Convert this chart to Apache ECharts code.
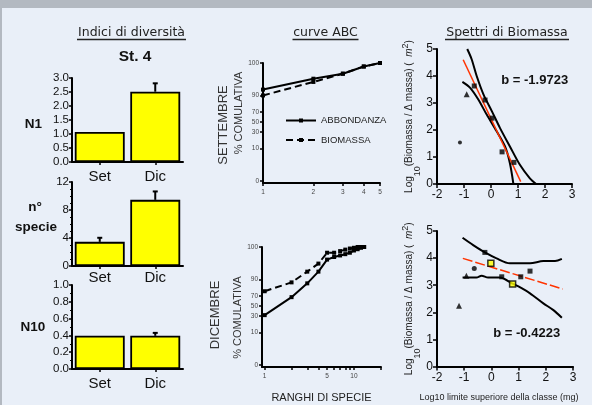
<!DOCTYPE html>
<html><head><meta charset="utf-8">
<script src="https://cdn.jsdelivr.net/npm/echarts@6/dist/echarts.min.js"></script>
<style>
html,body{margin:0;padding:0;width:592px;height:405px;overflow:hidden;background:#b3b9c1;}
#bg{position:absolute;left:2px;top:8px;width:590px;height:397px;background:#e9eff8;}
#chart{position:absolute;left:0;top:0;width:592px;height:405px;}
</style></head><body><div id="bg"></div><div id="chart"></div>
<script>
// ---- Bar charts (Indici di diversità, St. 4)
const MONTHS = ['Set', 'Dic'];
const N1_MEAN = [1.07, 2.51];
const N1_ERR = [0, 0.30];
const NSPEC_MEAN = [3.45, 9.45];
const NSPEC_ERR = [0.58, 1.20];
const N10_MEAN = [0.395, 0.395];
const N10_ERR = [0, 0.035];

// ---- ABC curves (cumulative %)
const ABC_Y_TICKS = [0, 10, 30, 50, 70, 90, 100];
const SET_X_TICKS = [1, 2, 3, 4, 5];
const SET_RANK = [1, 2, 3, 4, 5];
const SET_ABBONDANZA = [93.6, 97.3, 98.2, 99.0, 100];
const SET_BIOMASSA = [90.0, 96.5, 98.2, 99.0, 100];
const DIC_X_TICKS = [1, 2, 3, 4, 5, 6, 7, 8, 9, 10, 20];
const DIC_X_LABELS = [1, 5, 10];
const DIC_RANK = [1, 2, 3, 4, 5, 6, 7, 8, 9, 10, 11, 12, 13];
const DIC_ABBONDANZA = [31.9, 67.5, 86.7, 94.5, 97.9, 98.3, 98.5, 98.65, 98.8, 99.0, 99.1, 99.2, 100];
const DIC_BIOMASSA = [77.2, 87.6, 94.5, 97.1, 98.8, 98.8, 98.95, 99.07, 99.15, 99.2, 100, 100, 100];

// ---- Biomass spectra  [log10 upper class limit, log10(biomass/Δmass)]
const S1_DOT = [[-1.15, 1.54]];
const S1_TRI = [[-0.90, 3.32]];
const S1_SQ = [[-0.62, 3.63], [-0.22, 3.11], [0.04, 2.44], [0.41, 1.19], [0.85, 0.80]];
const S1_FIT = [[-1.03, 4.60], [1.10, 0.09]];
const S1_UPPER = [[-0.88, 5.0], [-0.72, 4.63], [-0.53, 4.0], [-0.28, 3.32], [0.03, 2.70], [0.33, 2.08], [0.70, 1.39], [1.07, 0.71], [1.44, 0.21], [1.67, 0]];
const S1_LOWER = [[-1.06, 3.78], [-0.78, 3.57], [-0.47, 3.13], [-0.16, 2.57], [0.21, 1.95], [0.52, 1.39], [0.70, 0.77], [0.83, 0]];
const S1_SLOPE = -1.9723;

const S2_TRI = [[-1.19, 2.24], [-0.92, 3.35]];
const S2_DOT = [[-0.63, 3.62]];
const S2_SQ = [[-0.24, 4.21], [0.38, 3.31], [1.08, 3.31], [1.42, 3.52]];
const S2_OPEN = [[-0.02, 3.81], [0.78, 3.04]];
const S2_FIT = [[-1.05, 3.99], [2.62, 2.86]];
const S2_UPPER = [[-1.06, 4.75], [-0.67, 4.48], [-0.24, 4.21], [0.19, 3.99], [0.68, 3.81], [1.42, 3.81], [1.91, 3.89], [2.34, 3.89], [2.59, 3.97]];
const S2_LOWER = [[-1.06, 3.28], [-0.55, 3.28], [-0.36, 3.35], [-0.12, 3.28], [0.31, 3.28], [0.75, 3.07], [1.11, 2.89], [1.42, 2.70], [1.91, 2.33], [2.28, 2.08], [2.59, 1.80]];
const S2_SLOPE = -0.4223;

// ---------- helpers ----------
const FONT = "'Liberation Sans', Arial, sans-serif";
const EPS = 0.0075;
function T(p) { // cumulative-% axis transform (logit-type)
  const q = Math.min(1 - EPS, Math.max(EPS, p / 100));
  return Math.log(q / (1 - q));
}
const L10 = v => Math.log10(v);
const abcYPos = ABC_Y_TICKS.map(T);
function abcYLabel(v) {
  let b = 0;
  for (let i = 1; i < abcYPos.length; i++) if (Math.abs(abcYPos[i] - v) < Math.abs(abcYPos[b] - v)) b = i;
  return String(ABC_Y_TICKS[b]);
}

const BLACK_LINE = { lineStyle: { color: '#000', width: 2 } };

function barX(i, margin) {
  return {
    type: 'category', gridIndex: i, data: MONTHS,
    axisLine: BLACK_LINE,
    axisTick: { show: true, alignWithLabel: true, length: 3, lineStyle: { color: '#000', width: 1.5 } },
    axisLabel: { fontSize: 15, color: '#111', margin: margin, fontFamily: FONT }
  };
}
function barY(i, max, interval, digits, minor) {
  return {
    type: 'value', gridIndex: i, min: 0, max: max, interval: interval,
    axisLine: { show: true, lineStyle: { color: '#000', width: 2 } },
    axisTick: { show: true, length: 3, lineStyle: { color: '#000', width: 1.5 } },
    minorTick: { show: !!minor, splitNumber: minor || 2, length: 2, lineStyle: { color: '#000', width: 1 } },
    splitLine: { show: false },
    axisLabel: { fontSize: 11.5, color: '#111', margin: 3, fontFamily: FONT, formatter: v => v.toFixed(digits) }
  };
}
function barSeries(i, data) {
  return {
    type: 'bar', xAxisIndex: i, yAxisIndex: i, data: data, barWidth: '90%',
    itemStyle: { color: '#ffff00', borderColor: '#000', borderWidth: 1.8 }, z: 2
  };
}
function errSeries(i, mean, err) {
  return {
    type: 'custom', xAxisIndex: i, yAxisIndex: i, z: 4,
    data: mean.map((m, k) => [k, m, m + err[k]]),
    renderItem: (params, api) => {
      const m = api.value(1), hi = api.value(2);
      if (!(hi > m)) return null;
      const p0 = api.coord([api.value(0), m]);
      const p1 = api.coord([api.value(0), hi]);
      return {
        type: 'group', children: [
          { type: 'line', shape: { x1: p0[0], y1: p0[1], x2: p1[0], y2: p1[1] }, style: { stroke: '#000', lineWidth: 2 } },
          { type: 'line', shape: { x1: p1[0] - 2.5, y1: p1[1], x2: p1[0] + 2.5, y2: p1[1] }, style: { stroke: '#000', lineWidth: 2 } }
        ]
      };
    }
  };
}

const smallLbl = { fontSize: 6.5, color: '#444', fontFamily: FONT };
function abcY(i, pad) {
  return {
    type: 'value', gridIndex: i, min: T(0) - 0.17, max: T(100),
    name: '% COMULATIVA', nameLocation: 'middle', nameGap: 16,
    nameTextStyle: { fontSize: 11, color: '#333', fontFamily: FONT, padding: pad },
    axisLine: { show: true, onZero: false, lineStyle: { color: '#000', width: 2 } },
    axisTick: { show: true, length: 3, customValues: abcYPos, lineStyle: { color: '#000', width: 1.5 } },
    splitLine: { show: false },
    axisLabel: Object.assign({ margin: 4, customValues: abcYPos, formatter: abcYLabel }, smallLbl)
  };
}
function abcX(i, min, max, ticks, labels, extra) {
  return Object.assign({
    type: 'value', gridIndex: i, min: min, max: max,
    axisLine: { show: true, onZero: false, lineStyle: { color: '#000', width: 2 } },
    axisTick: { show: true, length: 3, customValues: ticks.map(L10), lineStyle: { color: '#000', width: 1.5 } },
    splitLine: { show: false },
    axisLabel: Object.assign({ margin: 6, customValues: labels.map(L10), formatter: v => String(Math.round(Math.pow(10, v))) }, smallLbl)
  }, extra || {});
}
function abcLine(i, name, ranks, vals, dashed) {
  return {
    type: 'line', name: name, xAxisIndex: i, yAxisIndex: i,
    data: ranks.map((r, k) => [L10(r), T(vals[k])]),
    symbol: 'rect', symbolSize: 4, itemStyle: { color: '#000' },
    lineStyle: { color: '#000', width: 2, type: dashed ? [7, 4] : 'solid' }
  };
}

const specYName = {
  name: '{a|Log}{s|10}{a|(Biomassa / Δ massa) (  }{i|m}{p|2}{a|)}',
  nameLocation: 'middle', nameGap: 13,
  nameTextStyle: {
    fontFamily: FONT, color: '#222',
    rich: {
      a: { fontSize: 10, lineHeight: 26, verticalAlign: 'middle', color: '#222', fontFamily: FONT },
      i: { fontSize: 10, lineHeight: 26, verticalAlign: 'middle', fontStyle: 'italic', color: '#222', fontFamily: FONT },
      s: { fontSize: 9, lineHeight: 10, height: 10, verticalAlign: 'bottom', color: '#222', fontFamily: FONT },
      p: { fontSize: 9, lineHeight: 18, height: 18, verticalAlign: 'top', color: '#222', fontFamily: FONT }
    }
  }
};
function specX(i, extra) {
  return Object.assign({
    type: 'value', gridIndex: i, min: -2, max: 3, interval: 1,
    axisLine: { show: true, onZero: false, lineStyle: { color: '#000', width: 2 } },
    axisTick: { show: true, length: 4, lineStyle: { color: '#000', width: 1.5 } },
    splitLine: { show: false },
    axisLabel: { fontSize: 12, color: '#111', margin: 5, fontFamily: FONT }
  }, extra || {});
}
function specY(i) {
  return Object.assign({
    type: 'value', gridIndex: i, min: 0, max: 5, interval: 1,
    axisLine: { show: true, onZero: false, lineStyle: { color: '#000', width: 2 } },
    axisTick: { show: true, length: 4, lineStyle: { color: '#000', width: 1.5 } },
    splitLine: { show: false },
    axisLabel: { fontSize: 12, color: '#111', margin: 4, fontFamily: FONT }
  }, specYName);
}
function scat(i, data, symbol, size, fill) {
  return {
    type: 'scatter', xAxisIndex: i, yAxisIndex: i, data: data, symbol: symbol, symbolSize: size, z: 5,
    itemStyle: fill ? { color: fill, borderColor: '#000', borderWidth: 1.5 } : { color: '#000' }
  };
}
function curve(i, data, color, width, type, smooth) {
  return {
    type: 'line', xAxisIndex: i, yAxisIndex: i, data: data, symbol: 'none', smooth: smooth || false,
    lineStyle: { color: color, width: width, type: type || 'solid' }, z: 3
  };
}

function txt(x, y, text, size, weight, fill, rot, family) {
  return {
    type: 'text', x: x, y: y, rotation: rot || 0,
    style: {
      text: text, fontSize: size, fontWeight: weight || 'normal', fontFamily: family || FONT,
      fill: fill || '#222', textAlign: 'center', textVerticalAlign: 'middle'
    }
  };
}
function uline(x1, x2, y) {
  return { type: 'line', shape: { x1: x1, y1: y, x2: x2, y2: y }, style: { stroke: '#222', lineWidth: 1.5 } };
}

const G = (left, top, width, height) => ({ left, top, width, height, containLabel: false, outerBoundsMode: 'none' });
const DJV = "'DejaVu Sans', Verdana, sans-serif";

const option = {
  animation: false,
  textStyle: { fontFamily: FONT },
  grid: [
    G(72, 78, 111, 84),
    G(72, 182, 111, 84),
    G(72, 285, 111, 84),
    G(263, 63, 117, 120),
    G(262, 247, 119, 120),
    G(437, 49, 135, 135),
    G(437, 231, 136, 135.5)
  ],
  legend: {
    data: ['ABBONDANZA', 'BIOMASSA'], orient: 'vertical', left: 285, top: 115.5, padding: 0,
    itemWidth: 30, itemHeight: 5, itemGap: 9.5,
    textStyle: { fontSize: 9.5, color: '#222', fontFamily: FONT }
  },
  xAxis: [
    barX(0, 7), barX(1, 4), barX(2, 7),
    abcX(3, 0, L10(5), SET_X_TICKS, SET_X_TICKS),
    abcX(4, -0.03, 1.303, DIC_X_TICKS, DIC_X_LABELS, {
      name: 'RANGHI DI SPECIE', nameLocation: 'middle', nameGap: 25,
      nameTextStyle: { fontSize: 11, color: '#222', fontFamily: FONT }
    }),
    specX(5),
    specX(6, {
      name: 'Log10 limite superiore della classe (mg)', nameLocation: 'middle', nameGap: 27,
      nameTextStyle: { fontSize: 9, color: '#222', fontFamily: FONT, padding: [0, 12, 0, 0] }
    })
  ],
  yAxis: [
    barY(0, 3, 0.5, 1, 0),
    barY(1, 12, 4, 0, 4),
    barY(2, 1, 0.2, 1, 2),
    abcY(3, [0, 0, 0, 20]),
    abcY(4, [0, 21, 0, 0]),
    specY(5),
    specY(6)
  ],
  series: [
    barSeries(0, N1_MEAN), errSeries(0, N1_MEAN, N1_ERR),
    barSeries(1, NSPEC_MEAN), errSeries(1, NSPEC_MEAN, NSPEC_ERR),
    barSeries(2, N10_MEAN), errSeries(2, N10_MEAN, N10_ERR),

    abcLine(3, 'ABBONDANZA', SET_RANK, SET_ABBONDANZA, false),
    abcLine(3, 'BIOMASSA', SET_RANK, SET_BIOMASSA, true),
    abcLine(4, 'ABBONDANZA', DIC_RANK, DIC_ABBONDANZA, false),
    abcLine(4, 'BIOMASSA', DIC_RANK, DIC_BIOMASSA, true),

    curve(5, S1_UPPER, '#000', 2, 'solid', 0.3),
    curve(5, S1_LOWER, '#000', 2, 'solid', 0.3),
    curve(5, S1_FIT, '#ff3300', 1.5),
    scat(5, S1_DOT, 'circle', 4),
    scat(5, S1_TRI, 'triangle', 6),
    scat(5, S1_SQ, 'rect', 5),

    curve(6, S2_UPPER, '#000', 2, 'solid', 0.3),
    curve(6, S2_LOWER, '#000', 2, 'solid', 0.3),
    curve(6, S2_FIT, '#ff3300', 1.5, [10, 3]),
    scat(6, S2_TRI, 'triangle', 6),
    scat(6, S2_DOT, 'circle', 5),
    scat(6, S2_SQ, 'rect', 5),
    scat(6, S2_OPEN, 'rect', 6, '#ffff00')
  ],
  graphic: [
    txt(131.5, 32.5, 'Indici di diversità', 12.5, 'normal', '#222', 0, DJV),
    uline(77, 186, 39.5),
    txt(325.5, 32.5, 'curve ABC', 12.5, 'normal', '#222', 0, DJV),
    uline(292.5, 358.5, 39.5),
    txt(507, 32.5, 'Spettri di Biomassa', 12.5, 'normal', '#222', 0, DJV),
    uline(445, 569, 39.5),
    txt(135, 56.5, 'St. 4', 15.5, 'bold', '#111'),
    txt(33.5, 124, 'N1', 13.5, 'bold', '#111'),
    txt(35, 207, 'n°', 13.5, 'bold', '#111'),
    txt(36, 227, 'specie', 13.5, 'bold', '#111'),
    txt(33, 327, 'N10', 13.5, 'bold', '#111'),
    txt(223.5, 125, 'SETTEMBRE', 13, 'normal', '#333', Math.PI / 2),
    txt(215.5, 315, 'DICEMBRE', 13, 'normal', '#333', Math.PI / 2, "'Liberation Sans Narrow', 'Liberation Sans', Arial, sans-serif"),
    txt(534.7, 80, 'b = ' + S1_SLOPE.toFixed(4), 13, 'bold', '#111'),
    txt(526.7, 333.5, 'b = ' + S2_SLOPE.toFixed(4), 13, 'bold', '#111')
  ]
};

const chart = echarts.init(document.getElementById('chart'), null, { renderer: 'canvas' });
chart.setOption(option);
</script>
</body></html>
